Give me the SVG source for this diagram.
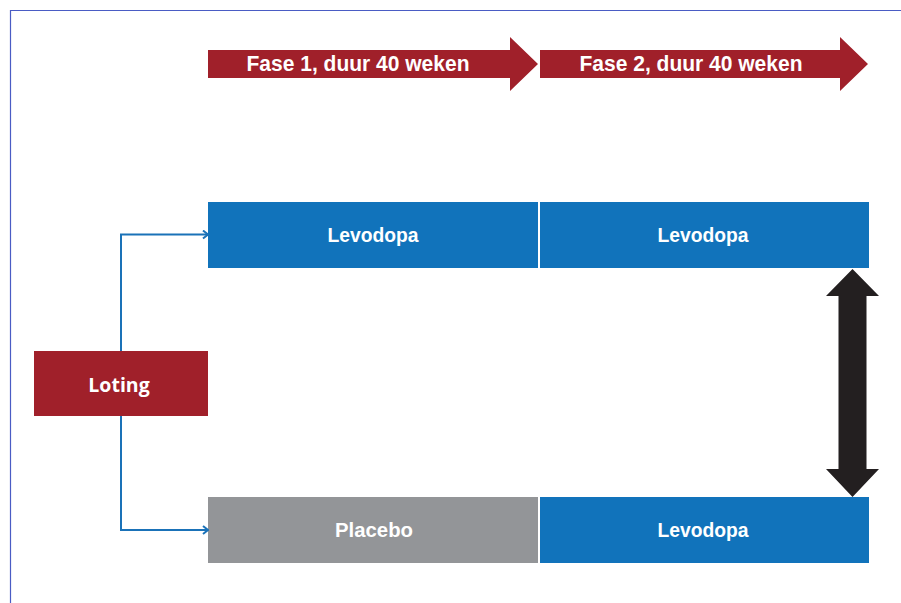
<svg xmlns="http://www.w3.org/2000/svg" width="901" height="603" viewBox="0 0 901 603">
<defs>
<style>
.red{fill:#a0202a}
.blue{fill:#1173bb}
.gray{fill:#939598}
.lbl{font-family:"Liberation Sans",Arial,sans-serif;font-weight:bold;font-size:20px;fill:#fff;text-anchor:middle}
.lot{font-family:"Open Sans","Noto Sans",sans-serif;font-weight:bold;font-size:19.5px;fill:#fff;text-anchor:middle}
.hdr{font-family:"Liberation Sans",Arial,sans-serif;font-weight:bold;font-size:22px;fill:#fff;text-anchor:middle}
.conn{fill:none;stroke:#1a72b8;stroke-width:2}
</style>
<marker id="chev" viewBox="0 0 10 10" refX="9" refY="5" markerWidth="10" markerHeight="10" markerUnits="userSpaceOnUse" orient="auto">
<path d="M4,1 L9,5 L4,9" fill="none" stroke="#1a72b8" stroke-width="2"/>
</marker>
</defs>
<rect width="901" height="603" fill="#fff"/>
<path d="M10.5,603 V10.5 H901" fill="none" stroke="#4a5cc4" stroke-width="1.2"/>
<g id="fase1">
<path class="red" d="M208,50 H510 V37 L538,64 L510,91 V78 H208 Z"/>
<text class="hdr" x="358" y="71" textLength="223" lengthAdjust="spacingAndGlyphs">Fase 1, duur 40 weken</text>
</g>
<g id="fase2">
<path class="red" d="M540,50 H840 V37 L868,64 L840,91 V78 H540 Z"/>
<text class="hdr" x="691" y="71" textLength="223" lengthAdjust="spacingAndGlyphs">Fase 2, duur 40 weken</text>
</g>
<g id="levodopa1">
<rect class="blue" x="208" y="202" width="330" height="66"/>
<text class="lbl" x="373" y="242" textLength="91" lengthAdjust="spacingAndGlyphs">Levodopa</text>
</g>
<g id="levodopa2">
<rect class="blue" x="540" y="202" width="329" height="66"/>
<text class="lbl" x="703" y="242" textLength="91" lengthAdjust="spacingAndGlyphs">Levodopa</text>
</g>
<g id="placebo">
<rect class="gray" x="208" y="497" width="330" height="66"/>
<text class="lbl" x="374" y="537" textLength="78" lengthAdjust="spacingAndGlyphs">Placebo</text>
</g>
<g id="levodopa3">
<rect class="blue" x="540" y="497" width="329" height="66"/>
<text class="lbl" x="703" y="537" textLength="91" lengthAdjust="spacingAndGlyphs">Levodopa</text>
</g>
<g id="loting">
<rect class="red" x="34" y="351" width="174" height="65"/>
<text class="lot" x="119" y="392">Loting</text>
</g>
<g id="vergelijking">
<path fill="#231f20" d="M852.5,269 L879,296 H866.5 V469 H879 L852.5,497 L826,469 H838.5 V296 H826 Z"/>
</g>
<g id="connectors">
<path class="conn" d="M121,351 V234.5 H208" marker-end="url(#chev)"/>
<path class="conn" d="M121,416 V530 H208" marker-end="url(#chev)"/>
</g>
</svg>
